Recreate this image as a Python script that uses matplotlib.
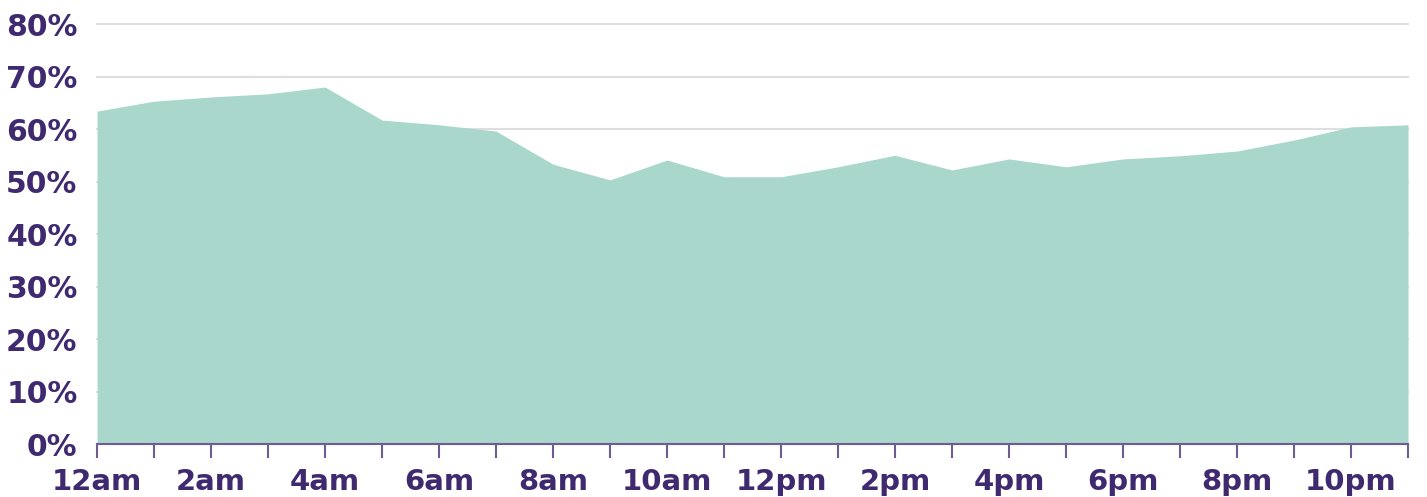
import matplotlib
matplotlib.use("Agg")
import matplotlib.pyplot as plt
import numpy as np

hours = ["12am", "1am", "2am", "3am", "4am", "5am", "6am", "7am", "8am", "9am", "10am", "11am",
         "12pm", "1pm", "2pm", "3pm", "4pm", "5pm", "6pm", "7pm", "8pm", "9pm", "10pm", "11pm"]
share = [63.4, 65.3, 66.1, 66.7, 68.0, 61.7, 60.8, 59.6, 53.3, 50.3, 54.1, 50.9,
         50.9, 52.8, 55.0, 52.2, 54.3, 52.8, 54.3, 54.9, 55.8, 57.9, 60.4, 60.8]
y_ticks = [0, 10, 20, 30, 40, 50, 60, 70, 80]

text_col = "#3f2a70"
axis_col = "#6e5c93"

plt.rcParams["font.family"] = ["DejaVu Sans"]

fig = plt.figure(figsize=(14.27, 4.97), dpi=100)
ax = fig.add_axes([0.068, 0.1066, 0.9187, 0.8451])

x = np.arange(len(hours))
ax.fill_between(x, share, 0, color="#a9d7cc", lw=0, zorder=2)

ax.set_xlim(0, len(hours) - 1)
ax.set_ylim(0, 80)
ax.set_yticks(y_ticks)
ax.set_yticklabels([f"{v}%" for v in y_ticks])
ax.yaxis.grid(True, color="#dedede", lw=1.5, zorder=0)
for gl in ax.get_ygridlines():
    gl.set_clip_on(False)
ax.tick_params(axis="y", length=0, pad=14, labelsize=21.5, labelcolor=text_col)

ax.set_xticks(x)
ax.set_xticklabels([h if i % 2 == 0 else "" for i, h in enumerate(hours)])
ax.tick_params(axis="x", length=10, width=1.5, color=axis_col, pad=7,
               labelsize=21, labelcolor=text_col)

for lab in ax.get_xticklabels() + ax.get_yticklabels():
    lab.set_fontweight("bold")

for s in ["top", "right", "left"]:
    ax.spines[s].set_visible(False)
ax.spines["bottom"].set_color(axis_col)
ax.spines["bottom"].set_linewidth(1.5)
ax.spines["bottom"].set_zorder(3)

fig.savefig("out.png", dpi=100)
